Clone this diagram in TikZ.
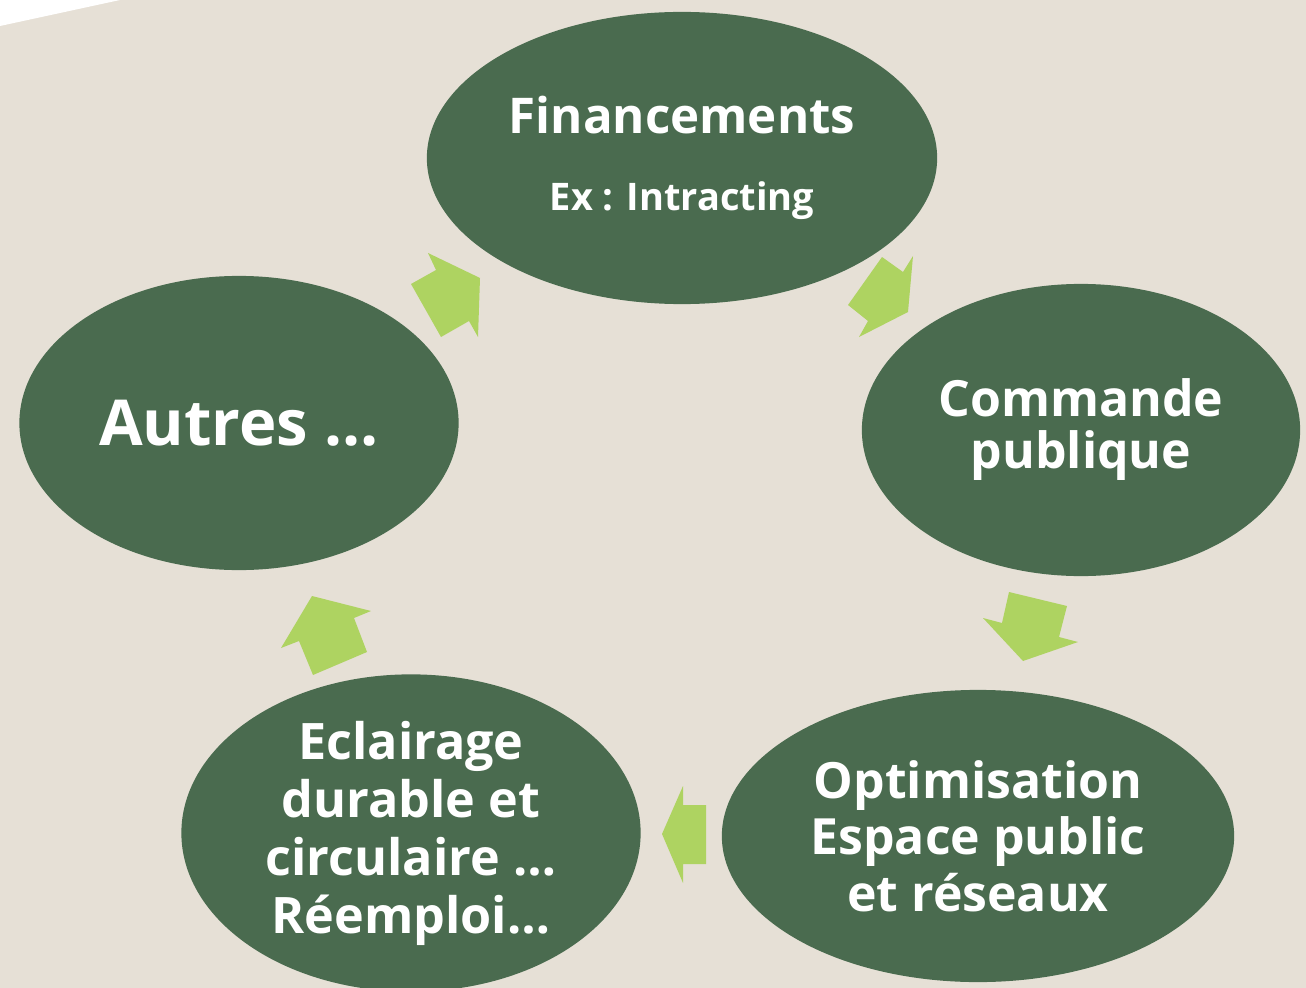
\documentclass[tikz,border=0pt]{standalone}
\usepackage{fontspec}
\setmainfont{Open Sans}
\usepackage{tikz}
\usetikzlibrary{shapes.geometric}
\definecolor{cyBg}{HTML}{E6E0D6}
\definecolor{cyGreen}{HTML}{4A6B4F}
\definecolor{cyArrow}{HTML}{AED361}
\tikzset{
  % Dark green ellipse of the cycle
  cyc/.style={ellipse,inner sep=0pt,fill=cyGreen,
    align=center,text=white},
  % Light green block arrow
  blk/.style={fill=cyArrow},
}

\begin{document}
\begin{tikzpicture}[x=0.01cm,y=-0.01cm]
  \useasboundingbox (0,0) rectangle (1306,988);
  \fill[cyBg] (0,0) rectangle (1306,988);
  \fill[white] (0,0) -- (120,0) -- (0,26) -- cycle;

  % Ellipses
  \node[cyc,minimum width=5.10cm,minimum height=2.92cm,
    font=\bfseries\fontsize{14}{17}\selectfont] (fin) at (682,158)
    {Financements\\[5pt]
     {\fontsize{10.8}{13}\selectfont Ex : Intracting}};
  \node[cyc,minimum width=4.38cm,minimum height=2.92cm,
    font=\bfseries\fontsize{14.2}{14.8}\selectfont] (cmd) at (1081,430)
    {Commande\\publique};
  \node[cyc,minimum width=5.12cm,minimum height=2.92cm,
    font=\bfseries\fontsize{14.2}{16}\selectfont] (opt) at (978,836)
    {Optimisation\\Espace public\\et réseaux};
  \node[cyc,minimum width=4.59cm,minimum height=2.93cm,
    font=\bfseries\fontsize{14.3}{16.5}\selectfont] (ecl) at (411,833)
    {Eclairage\\durable et\\circulaire …\\Réemploi…};
  \node[cyc,minimum width=4.39cm,minimum height=2.94cm,
    font=\bfseries\fontsize{18}{21}\selectfont] (aut) at (239,423)
    {Autres …};

  % Block arrows
  \fill[blk] (428,253) -- (480,278) -- (478,337) -- (469,321) -- (441,337)
    -- (411,284) -- (436,270) -- cycle;
  \fill[blk] (913,256) -- (908,312) -- (859,337) -- (868,321) -- (848,305)
    -- (882,257) -- (903,272) -- cycle;
  \fill[blk] (1078,642) -- (1023,661) -- (983,618) -- (1002,623) -- (1009,592)
    -- (1067,606) -- (1059,637) -- cycle;
  \fill[blk] (683,786) -- (662,834) -- (683,883) -- (683,864) -- (706,864)
    -- (706,805) -- (683,805) -- cycle;
  \fill[blk] (371,611) -- (312,596) -- (281,648) -- (299,641) -- (313,675)
    -- (367,652) -- (354,618) -- cycle;
\end{tikzpicture}
\end{document}
